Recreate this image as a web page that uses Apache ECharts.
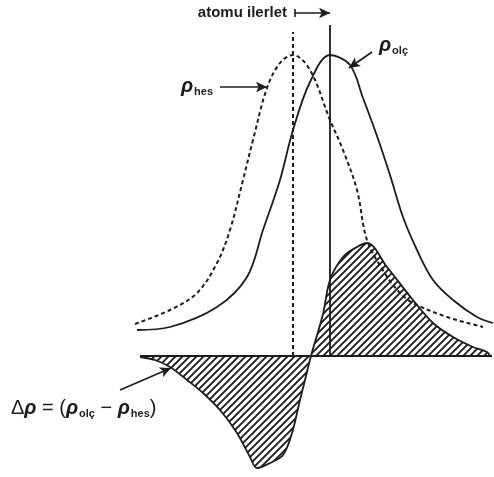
<!DOCTYPE html>
<html>
<head>
<meta charset="utf-8">
<script src="https://cdn.jsdelivr.net/npm/echarts@6/dist/echarts.min.js"></script>
<style>
  html, body { margin: 0; padding: 0; background: #fff; }
  #chart { width: 494px; height: 477px; }
</style>
</head>
<body>
<div id="chart"></div>
<script>
// Calculated electron density (dashed curve)
const hesX = [0.1, 3.6, 6.3, 8.3, 9.6, 10.9, 11.9, 13.3, 14.6, 15.9, 17.6, 19.6, 20.9, 22.3, 23.3, 25.0, 26.5, 27.9, 31.3, 34.9];
const hesY = [3.2, 4.6, 6.3, 9.3, 12.6, 17.6, 21.6, 26.8, 29.3, 30.1, 28.6, 23.6, 20.6, 16.6, 11.6, 8.4, 6.4, 5.3, 3.9, 2.9];

// Measured electron density (solid curve)
const olcX = [0.3, 3.6, 8.3, 11.3, 12.9, 14.6, 15.9, 17.6, 19.6, 21.6, 22.9, 24.3, 25.6, 26.9, 28.3, 29.9, 31.9, 34.3, 35.9];
const olcY = [2.6, 2.9, 4.9, 7.9, 12.6, 17.6, 22.6, 27.4, 30.1, 29.1, 25.8, 22.0, 18.1, 13.9, 10.6, 7.6, 5.6, 3.9, 3.3];

// Difference density (hatched)
const deltaX = [0.6, 2.1, 3.6, 5.3, 6.9, 8.6, 10.3, 11.6, 12.3, 13.6, 14.9, 15.8, 16.6, 17.1, 17.7, 18.9, 19.6, 20.9, 22.3, 23.3, 25.3, 27.9, 29.9, 31.9, 33.9, 35.3, 35.6];
const deltaY = [-0.1, -0.4, -1.1, -2.4, -3.7, -5.4, -7.7, -10.1, -11.2, -10.7, -9.9, -7.7, -4.4, -2.4, 0.0, 4.2, 7.6, 9.9, 10.9, 11.3, 8.9, 5.6, 3.3, 1.9, 0.9, 0.4, 0.0];

// Atom positions (peak of each density) and the top of their marker lines
const peakX = { hes: 15.9, olc: 19.6 };
const peakLineTop = { hes: 32.4, olc: 33.1 };

// Zero level of the difference density
const baseFrom = 0.6, baseTo = 35.8;

const ink = '#1c1c1c';

function pairs(xs, ys) { return xs.map((x, i) => [x, ys[i]]); }

function hatchPattern() {
  const s = 7;
  const c = document.createElement('canvas');
  c.width = s; c.height = s;
  const g = c.getContext('2d');
  g.strokeStyle = ink;
  g.lineWidth = 1.9;
  g.beginPath();
  g.moveTo(-1, s + 1); g.lineTo(s + 1, -1);
  g.moveTo(-s / 2 - 1, s / 2 + 1); g.lineTo(s / 2 + 1, -s / 2 - 1);
  g.moveTo(s / 2 - 1, s * 1.5 + 1); g.lineTo(s * 1.5 + 1, s / 2 - 1);
  g.stroke();
  return c;
}

const rho = { fontSize: 20, fontStyle: 'italic', fontWeight: 'bold', fontFamily: 'Liberation Sans', color: ink, lineHeight: 22 };
const sub = { fontSize: 11, fontWeight: 'bold', fontFamily: 'Liberation Sans', color: ink, verticalAlign: 'bottom', lineHeight: 22, padding: [3, 0, 0, 1] };
const norm = { fontSize: 20, fontFamily: 'Liberation Sans', color: ink, lineHeight: 22 };

function arrow(from, to) {
  return [{ coord: from, symbol: 'none' }, { coord: to, symbol: 'arrow', symbolSize: [8, 11] }];
}

const curve = { type: 'line', smooth: 0.35, showSymbol: false };

const chart = echarts.init(document.getElementById('chart'), null, { renderer: 'canvas' });

chart.setOption({
  backgroundColor: '#fff',
  animation: false,
  grid: { left: 0, right: 0, top: 0, bottom: 0 },
  xAxis: { type: 'value', min: -13.4, max: 36.0, show: false },
  yAxis: { type: 'value', min: -12.1, max: 35.6, show: false },
  series: [
    Object.assign({}, curve, {
      name: 'Δρ',
      data: pairs(deltaX, deltaY),
      lineStyle: { color: ink, width: 1.8 },
      areaStyle: { color: { image: hatchPattern(), repeat: 'repeat' }, opacity: 1, origin: 0 },
      z: 2
    }),
    Object.assign({}, curve, {
      name: 'ρhes',
      data: pairs(hesX, hesY),
      lineStyle: { color: ink, width: 2, type: [4, 3] },
      z: 3
    }),
    Object.assign({}, curve, {
      name: 'ρolç',
      data: pairs(olcX, olcY),
      lineStyle: { color: ink, width: 1.8 },
      z: 3
    }),
    {
      name: 'hes peak',
      type: 'line',
      data: [[peakX.hes, 0], [peakX.hes, peakLineTop.hes]],
      showSymbol: false,
      lineStyle: { color: ink, width: 2, type: [4, 3] },
      z: 3
    },
    {
      name: 'olc peak',
      type: 'line',
      data: [[peakX.olc, 0], [peakX.olc, peakLineTop.olc]],
      showSymbol: false,
      lineStyle: { color: ink, width: 1.8 },
      z: 3
    },
    {
      name: 'annotations',
      type: 'line',
      data: [],
      z: 5,
      markLine: {
        silent: true,
        animation: false,
        label: { show: false },
        lineStyle: { color: ink, width: 1.6, type: 'solid' },
        data: [
          [{ coord: [baseFrom, 0], symbol: 'none' }, { coord: [baseTo, 0], symbol: 'none', lineStyle: { width: 2 } }],
          arrow([peakX.hes + 0.2, 34.3], [peakX.olc, 34.3]),
          [{ coord: [peakX.hes + 0.2, 34.7], symbol: 'none' }, { coord: [peakX.hes + 0.2, 33.9], symbol: 'none' }],
          arrow([8.6, 26.9], [13.3, 26.9]),
          arrow([23.8, 30.4], [21.5, 28.8]),
          arrow([-1.4, -3.4], [3.7, -1.2])
        ]
      },
      markPoint: {
        silent: true,
        symbol: 'circle',
        symbolSize: 0,
        data: [
          {
            coord: [15.3, 34.3],
            label: { show: true, position: 'left', distance: 0, formatter: 'atomu ilerlet',
              fontSize: 15, fontWeight: 'bold', fontFamily: 'Liberation Sans', color: ink }
          },
          {
            coord: [7.9, 27.0],
            label: { show: true, position: 'left', distance: 0, formatter: '{r|ρ}{s|hes}', rich: { r: rho, s: sub } }
          },
          {
            coord: [24.5, 31.1],
            label: { show: true, position: 'right', distance: 0, formatter: '{r|ρ}{s|olç}', rich: { r: rho, s: sub } }
          },
          {
            coord: [-12.3, -5.2],
            label: { show: true, position: 'right', distance: 0,
              formatter: '{n|Δ}{r|ρ}{n| = (}{r|ρ}{s|olç}{n| − }{r|ρ}{s|hes}{n|)}',
              rich: { r: rho, s: sub, n: norm } }
          }
        ]
      }
    }
  ]
});
</script>
</body>
</html>
